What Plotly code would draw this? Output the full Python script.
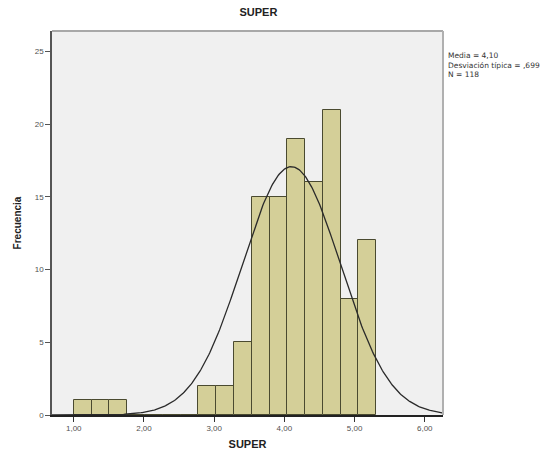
import numpy as np
import plotly.graph_objects as go

# ---- data ----
bin_start = 1.0
bin_width = 0.2535
counts = [1, 1, 1, 0, 0, 0, 0, 2, 2, 5, 15, 15, 19, 16, 21, 8, 12]
mean_val = 4.10
sd_val = 0.699
n_val = 118
x_tick_vals = [1, 2, 3, 4, 5, 6]
x_tick_text = ["1,00", "2,00", "3,00", "4,00", "5,00", "6,00"]
y_tick_vals = [0, 5, 10, 15, 20, 25]
stats_lines = ["Media = 4,10", "Desviación típica = ,699", "N = 118"]

centers = [bin_start + bin_width * (i + 0.5) for i in range(len(counts))]

x_min, x_max = 0.69, 6.26
xs = np.linspace(x_min, x_max, 400)
ys = n_val * bin_width * np.exp(-0.5 * ((xs - mean_val) / sd_val) ** 2) / (sd_val * np.sqrt(2 * np.pi))

FONT = "Liberation Sans, Arial, sans-serif"

fig = go.Figure()
fig.add_trace(go.Bar(
    x=centers, y=counts, width=bin_width,
    marker=dict(color="#d4cf98", line=dict(color="#4a4a30", width=1)),
    hoverinfo="skip", showlegend=False,
))
fig.add_trace(go.Scatter(
    x=xs, y=ys, mode="lines",
    line=dict(color="#2a2a2a", width=1.3),
    hoverinfo="skip", showlegend=False,
))

fig.update_layout(
    width=557, height=461,
    margin=dict(l=52, r=114, t=31, b=42),
    paper_bgcolor="white",
    plot_bgcolor="#f0f0f0",
    font=dict(family=FONT, size=8, color="#404040"),
    bargap=0,
    title=dict(text="<b>SUPER</b>", x=294 / 557, xref="paper", xanchor="center",
               y=1 - 12 / 461, yanchor="middle",
               font=dict(family=FONT, size=11, color="#222222")),
    xaxis=dict(
        range=[x_min, x_max], tickvals=x_tick_vals, ticktext=x_tick_text,
        ticks="outside", ticklen=5, tickcolor="#333333",
        showgrid=False, zeroline=False,
        showline=True, linecolor="#222222", linewidth=1.5, mirror=False,
        title=dict(text="<b>SUPER</b>", standoff=8,
                   font=dict(family=FONT, size=11, color="#222222")),
        tickfont=dict(size=8, color="#505050"),
    ),
    yaxis=dict(
        range=[0, 26.4], tickvals=y_tick_vals,
        ticks="outside", ticklen=5, tickcolor="#555555",
        showgrid=False, zeroline=False,
        showline=True, linecolor="#555555", linewidth=1.5,
        title=dict(text="<b>Frecuencia</b>", standoff=11,
                   font=dict(family=FONT, size=10, color="#222222")),
        tickfont=dict(size=8, color="#505050"),
    ),
)

# frame (top & right) of plot area
fig.add_shape(type="line", xref="paper", yref="paper", x0=0, x1=1, y0=1, y1=1,
              line=dict(color="#a8a8a8", width=2))
fig.add_shape(type="line", xref="paper", yref="paper", x0=1, x1=1, y0=0, y1=1,
              line=dict(color="#b0b0b0", width=2))

for i, line in enumerate(stats_lines):
    fig.add_annotation(
        text=line, xref="paper", yref="paper",
        x=1.0, y=1 - (25 + 9.5 * i) / 388, xanchor="left", yanchor="middle", xshift=3,
        showarrow=False, align="left",
        font=dict(family="DejaVu Sans, sans-serif", size=7.5, color="#333333"),
    )

fig.write_html("out.html")
